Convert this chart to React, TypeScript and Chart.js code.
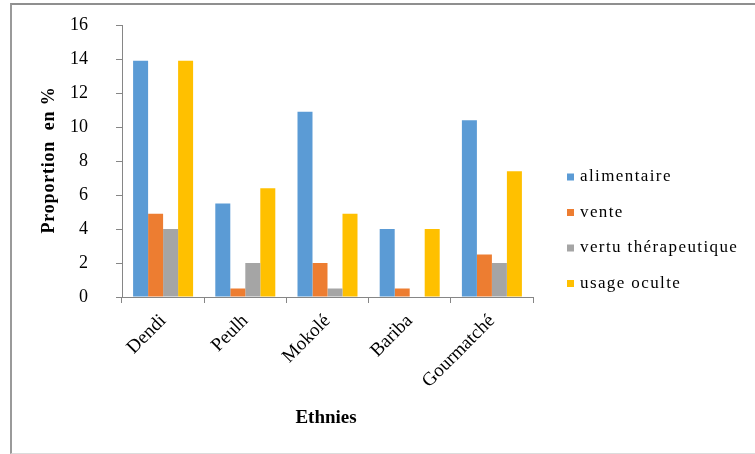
import React, { useEffect, useRef } from "react";
import { Chart, registerables } from "chart.js";

Chart.register(...registerables);

const categories = ["Dendi", "Peulh", "Mokolé", "Bariba", "Gourmatché"];
const seriesNames = ["alimentaire", "vente", "vertu thérapeutique", "usage oculte"];
const alimentaire = [13.9, 5.5, 10.9, 4.0, 10.4];
const vente = [4.9, 0.5, 2.0, 0.5, 2.5];
const vertuTherapeutique = [4.0, 2.0, 0.5, 0, 2.0];
const usageOculte = [13.9, 6.4, 4.9, 4.0, 7.4];
const seriesColors = ["#5B9BD5", "#ED7D31", "#A5A5A5", "#FFC000"];
const yTitle = "Proportion  en %";
const xTitle = "Ethnies";

const SERIF = "'Liberation Serif', 'Times New Roman', serif";
const AXIS_COLOR = "#868686";

export default function App() {
  const ref = useRef<HTMLCanvasElement | null>(null);

  useEffect(() => {
    const canvas = ref.current;
    if (!canvas) return;
    const values = [alimentaire, vente, vertuTherapeutique, usageOculte];

    const overlay = {
      id: "overlay",
      afterDraw(chart: any) {
        const ctx = chart.ctx;
        ctx.save();
        ctx.fillStyle = "#000";
        ctx.font = `bold 18px ${SERIF}`;
        (ctx as any).letterSpacing = "0.8px";
        ctx.textAlign = "center";
        ctx.textBaseline = "middle";
        ctx.translate(49, 160);
        ctx.rotate(-Math.PI / 2);
        ctx.fillText(yTitle, 0, 0);
        ctx.restore();

        ctx.save();
        ctx.fillStyle = "#000";
        ctx.font = `bold 19px ${SERIF}`;
        ctx.textAlign = "center";
        ctx.textBaseline = "middle";
        ctx.fillText(xTitle, 326, 418);
        ctx.restore();

        ctx.save();
        ctx.font = `17px ${SERIF}`;
        (ctx as any).letterSpacing = "1.4px";
        ctx.textAlign = "left";
        ctx.textBaseline = "middle";
        const startY = 177;
        const gap = 35.5;
        seriesNames.forEach((name, i) => {
          const cy = startY + i * gap;
          ctx.fillStyle = seriesColors[i];
          ctx.fillRect(567, cy - 3.5, 7, 7);
          ctx.fillStyle = "#000";
          ctx.fillText(name, 580, cy);
        });
        ctx.restore();
      },
    };

    const chart = new Chart(canvas, {
      type: "bar",
      data: {
        labels: categories,
        datasets: values.map((v, i) => ({
          label: seriesNames[i],
          data: v,
          backgroundColor: seriesColors[i],
          borderWidth: 0,
          categoryPercentage: 0.73,
          barPercentage: 1,
        })),
      },
      options: {
        responsive: false,
        animation: false,
        layout: { padding: { left: 0, right: 222, top: 25, bottom: 0 } },
        plugins: {
          legend: { display: false },
          tooltip: { enabled: false },
          title: { display: false },
        },
        scales: {
          x: {
            afterFit(scale: any) {
              scale.height = 157;
            },
            grid: {
              display: true,
              offset: true,
              drawOnChartArea: false,
              drawTicks: true,
              tickLength: 6,
              color: AXIS_COLOR,
            },
            border: { display: true, color: AXIS_COLOR, width: 1 },
            ticks: {
              minRotation: 45,
              maxRotation: 45,
              autoSkip: false,
              padding: 7,
              color: "#000",
              font: { family: SERIF, size: 19 },
            },
          },
          y: {
            min: 0,
            max: 16,
            afterFit(scale: any) {
              scale.width = 122;
              scale.paddingTop = 0;
              scale.paddingBottom = 0;
            },
            grid: {
              display: true,
              drawOnChartArea: false,
              drawTicks: true,
              tickLength: 6,
              color: AXIS_COLOR,
            },
            border: { display: true, color: AXIS_COLOR, width: 1 },
            ticks: {
              stepSize: 2,
              padding: 28,
              color: "#000",
              font: { family: SERIF, size: 18 },
            },
          },
        },
      },
      plugins: [overlay],
    });

    return () => chart.destroy();
  }, []);

  return (
    <div style={{ position: "fixed", left: 0, top: 0, width: 755, height: 454, background: "#fff" }}>
      <div
        style={{
          position: "absolute",
          left: 10,
          top: 3,
          width: 745,
          height: 448,
          borderLeft: "2px solid #9a9a9a",
          borderTop: "2px solid #8f8f8f",
          borderBottom: "1px solid #dcdcdc",
        }}
      />
      <canvas ref={ref} width={755} height={454} style={{ position: "absolute", left: 0, top: 0, width: 755, height: 454 }} />
    </div>
  );
}
